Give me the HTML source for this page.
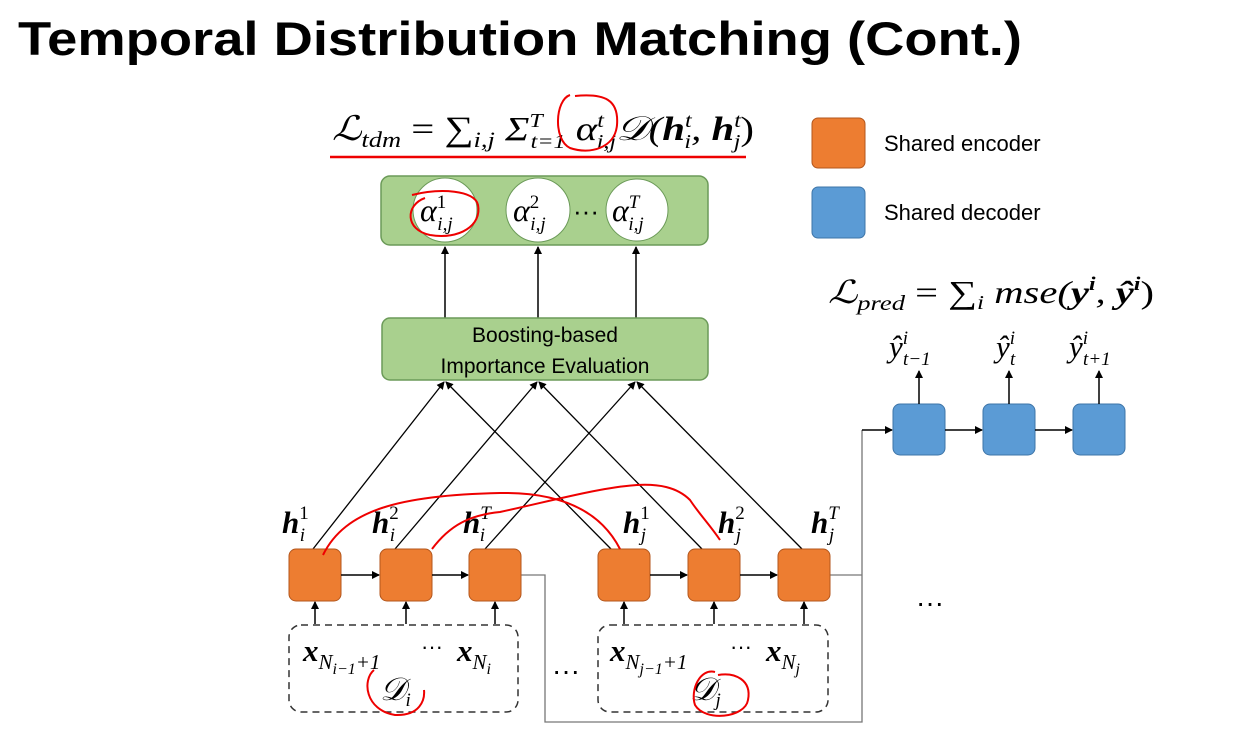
<!DOCTYPE html>
<html><head><meta charset="utf-8"><style>
body{margin:0;background:#fff;}
svg{display:block;}
.m{font-family:"Liberation Serif",serif;font-style:italic;}
.b{font-weight:bold;}
.s{font-family:"Liberation Sans",sans-serif;}
</style></head><body>
<svg width="1251" height="730" viewBox="0 0 1251 730" xmlns="http://www.w3.org/2000/svg">
<defs>
<marker id="a" markerWidth="8" markerHeight="8" refX="7" refY="4" orient="auto" markerUnits="userSpaceOnUse"><path d="M0,0 L8,4 L0,8 z" fill="#000"/></marker>
</defs>
<text x="18" y="55" class="s" font-size="47" font-weight="bold" textLength="1004" lengthAdjust="spacingAndGlyphs">Temporal Distribution Matching (Cont.)</text>

<!-- formula -->
<text x="332" y="140" class="m" font-size="34" textLength="422" lengthAdjust="spacingAndGlyphs">ℒ<tspan font-size="22" dy="7">tdm</tspan><tspan dy="-7" font-style="normal"> = ∑</tspan><tspan font-size="22" dy="7">i,j</tspan><tspan dy="-7"> Σ</tspan><tspan font-size="20" dy="-13">T</tspan><tspan font-size="20" dx="-10" dy="21">t=1</tspan><tspan dy="-8"> α</tspan><tspan font-size="20" dy="-13">t</tspan><tspan font-size="20" dx="-6" dy="21">i,j</tspan><tspan dy="-8">𝒟(</tspan><tspan class="b">h</tspan><tspan font-size="20" dy="-13">t</tspan><tspan font-size="20" dx="-6" dy="21">i</tspan><tspan dy="-8">, </tspan><tspan class="b">h</tspan><tspan font-size="20" dy="-13">t</tspan><tspan font-size="20" dx="-6" dy="21">j</tspan><tspan dy="-8" font-style="normal">)</tspan></text>
<line x1="330" y1="157" x2="746" y2="157" stroke="#e00" stroke-width="2.5"/>
<path d="M570,95 C555,100 553,140 570,148 C590,155 615,148 617,125 C619,100 605,93 575,96" fill="none" stroke="#e00" stroke-width="2"/>

<!-- top green -->
<rect x="381" y="176" width="327" height="69" rx="9" fill="#a9d08e" stroke="#6b9a58" stroke-width="1.5"/>
<circle cx="445" cy="210" r="32" fill="#fff" stroke="#6b9a58"/>
<circle cx="538" cy="210" r="32" fill="#fff" stroke="#6b9a58"/>
<circle cx="637" cy="210" r="31" fill="#fff" stroke="#6b9a58"/>
<text x="420" y="221" class="m" font-size="32">α<tspan font-size="19" dy="-13" font-style="normal">1</tspan><tspan font-size="19" dx="-9" dy="22">i,j</tspan></text>
<text x="513" y="221" class="m" font-size="32">α<tspan font-size="19" dy="-13" font-style="normal">2</tspan><tspan font-size="19" dx="-9" dy="22">i,j</tspan></text>
<text x="612" y="221" class="m" font-size="32">α<tspan font-size="19" dy="-13">T</tspan><tspan font-size="19" dx="-10" dy="22">i,j</tspan></text>
<text x="573" y="220" font-size="26" font-family="Liberation Sans">···</text>
<path d="M412,195 C440,188 475,190 478,205 C482,225 460,240 430,235 C405,230 405,205 425,198" fill="none" stroke="#e00" stroke-width="2"/>

<line x1="445" y1="318" x2="445" y2="247" stroke="#000" stroke-width="1.5" marker-end="url(#a)"/>
<line x1="538" y1="318" x2="538" y2="247" stroke="#000" stroke-width="1.5" marker-end="url(#a)"/>
<line x1="636" y1="318" x2="636" y2="247" stroke="#000" stroke-width="1.5" marker-end="url(#a)"/>

<rect x="382" y="318" width="326" height="62" rx="8" fill="#a9d08e" stroke="#6b9a58" stroke-width="1.5"/>
<text x="545" y="342" class="s" font-size="21" text-anchor="middle">Boosting-based</text>
<text x="545" y="373" class="s" font-size="21" text-anchor="middle">Importance Evaluation</text>

<!-- diagonal lines -->
<g stroke="#000" stroke-width="1.3" marker-end="url(#a)">
<line x1="313" y1="549" x2="444" y2="382"/>
<line x1="395" y1="549" x2="537" y2="382"/>
<line x1="485" y1="549" x2="635" y2="382"/>
<line x1="611" y1="549" x2="446" y2="382"/>
<line x1="702" y1="549" x2="539" y2="382"/>
<line x1="802" y1="549" x2="637" y2="382"/>
</g>

<!-- h labels -->
<g class="m b" font-size="31">
<text x="282" y="533">h<tspan font-size="19" font-weight="normal" dy="-14" font-style="normal">1</tspan><tspan font-size="19" font-weight="normal" dx="-9" dy="22">i</tspan></text>
<text x="372" y="533">h<tspan font-size="19" font-weight="normal" dy="-14" font-style="normal">2</tspan><tspan font-size="19" font-weight="normal" dx="-9" dy="22">i</tspan></text>
<text x="463" y="533">h<tspan font-size="19" font-weight="normal" dy="-14">T</tspan><tspan font-size="19" font-weight="normal" dx="-10" dy="22">i</tspan></text>
<text x="623" y="533">h<tspan font-size="19" font-weight="normal" dy="-14" font-style="normal">1</tspan><tspan font-size="19" font-weight="normal" dx="-9" dy="22">j</tspan></text>
<text x="718" y="533">h<tspan font-size="19" font-weight="normal" dy="-14" font-style="normal">2</tspan><tspan font-size="19" font-weight="normal" dx="-9" dy="22">j</tspan></text>
<text x="811" y="533">h<tspan font-size="19" font-weight="normal" dy="-14">T</tspan><tspan font-size="19" font-weight="normal" dx="-10" dy="22">j</tspan></text>
</g>

<!-- gray connector -->
<polyline points="521,575 545,575 545,722 862,722 862,430" fill="none" stroke="#777" stroke-width="1.3"/>
<line x1="830" y1="575" x2="862" y2="575" stroke="#777" stroke-width="1.3"/>
<line x1="862" y1="430" x2="892" y2="430" stroke="#000" stroke-width="1.5" marker-end="url(#a)"/>

<!-- orange boxes -->
<g fill="#ed7d31" stroke="#b3561c" stroke-width="1">
<rect x="289" y="549" width="52" height="52" rx="7"/>
<rect x="380" y="549" width="52" height="52" rx="7"/>
<rect x="469" y="549" width="52" height="52" rx="7"/>
<rect x="598" y="549" width="52" height="52" rx="7"/>
<rect x="688" y="549" width="52" height="52" rx="7"/>
<rect x="778" y="549" width="52" height="52" rx="7"/>
</g>
<g stroke="#000" stroke-width="1.5" marker-end="url(#a)">
<line x1="341" y1="575" x2="379" y2="575"/>
<line x1="432" y1="575" x2="468" y2="575"/>
<line x1="650" y1="575" x2="687" y2="575"/>
<line x1="740" y1="575" x2="777" y2="575"/>
<line x1="315" y1="624" x2="315" y2="602"/>
<line x1="406" y1="624" x2="406" y2="602"/>
<line x1="495" y1="624" x2="495" y2="602"/>
<line x1="624" y1="624" x2="624" y2="602"/>
<line x1="714" y1="624" x2="714" y2="602"/>
<line x1="804" y1="624" x2="804" y2="602"/>
</g>

<!-- dashed boxes -->
<rect x="289" y="625" width="229" height="87" rx="12" fill="none" stroke="#333" stroke-width="1.5" stroke-dasharray="7,5"/>
<rect x="598" y="625" width="230" height="87" rx="12" fill="none" stroke="#333" stroke-width="1.5" stroke-dasharray="7,5"/>
<g class="m b" font-size="31">
<text x="303" y="661">x<tspan font-size="21" font-weight="normal" dy="8">N<tspan font-size="16" dy="5">i−1</tspan><tspan dy="-5">+1</tspan></tspan></text>
<text x="457" y="661">x<tspan font-size="21" font-weight="normal" dy="8">N<tspan font-size="16" dy="5">i</tspan></tspan></text>
<text x="610" y="661">x<tspan font-size="21" font-weight="normal" dy="8">N<tspan font-size="16" dy="5">j−1</tspan><tspan dy="-5">+1</tspan></tspan></text>
<text x="766" y="661">x<tspan font-size="21" font-weight="normal" dy="8">N<tspan font-size="16" dy="5">j</tspan></tspan></text>
</g>
<text x="421" y="654" font-size="22" font-family="Liberation Sans">···</text>
<text x="730" y="654" font-size="22" font-family="Liberation Sans">···</text>
<text x="380" y="700" class="m" font-size="32">𝒟<tspan font-size="19" dy="6">i</tspan></text>
<text x="690" y="700" class="m" font-size="32">𝒟<tspan font-size="19" dy="6">j</tspan></text>
<text x="552" y="680" font-size="28" font-family="Liberation Sans">···</text>
<text x="916" y="612" font-size="28" font-family="Liberation Sans">···</text>

<!-- red annotations -->
<g fill="none" stroke="#e00" stroke-width="2">
<path d="M374,670 C362,680 365,710 395,715 C420,716 425,700 424,690"/>
<path d="M715,672 C700,668 690,690 695,705 C705,722 745,718 748,700 C752,680 735,672 718,675"/>
<path d="M323,555 C345,510 400,495 500,493 C560,492 600,510 620,549"/>
<path d="M432,549 C450,525 470,515 500,512 C600,490 660,470 690,500 C700,515 710,525 720,540"/>
</g>

<!-- decoder -->
<g fill="#5b9bd5" stroke="#3e75a8" stroke-width="1">
<rect x="893" y="404" width="52" height="51" rx="7"/>
<rect x="983" y="404" width="52" height="51" rx="7"/>
<rect x="1073" y="404" width="52" height="51" rx="7"/>
</g>
<g stroke="#000" stroke-width="1.5" marker-end="url(#a)">
<line x1="945" y1="430" x2="982" y2="430"/>
<line x1="1035" y1="430" x2="1072" y2="430"/>
<line x1="919" y1="404" x2="919" y2="371"/>
<line x1="1009" y1="404" x2="1009" y2="371"/>
<line x1="1099" y1="404" x2="1099" y2="371"/>
</g>
<g class="m" font-size="31">
<text x="889" y="357">ŷ<tspan font-size="19" dy="-13">i</tspan><tspan font-size="19" dx="-5" dy="21">t−1</tspan></text>
<text x="996" y="357">ŷ<tspan font-size="19" dy="-13">i</tspan><tspan font-size="19" dx="-5" dy="21">t</tspan></text>
<text x="1069" y="357">ŷ<tspan font-size="19" dy="-13">i</tspan><tspan font-size="19" dx="-5" dy="21">t+1</tspan></text>
</g>
<text x="828" y="303" class="m" font-size="32" textLength="326" lengthAdjust="spacingAndGlyphs">ℒ<tspan font-size="21" dy="7">pred</tspan><tspan dy="-7" font-style="normal"> = ∑</tspan><tspan font-size="20" dy="6">i</tspan><tspan dy="-6"> mse(</tspan><tspan class="b">y</tspan><tspan font-size="19" dy="-13" class="b">i</tspan><tspan dy="13">, </tspan><tspan class="b">ŷ</tspan><tspan font-size="19" dy="-13" class="b">i</tspan><tspan dy="13" font-style="normal">)</tspan></text>

<!-- legend -->
<rect x="812" y="118" width="53" height="50" rx="6" fill="#ed7d31" stroke="#b3561c"/>
<rect x="812" y="187" width="53" height="51" rx="6" fill="#5b9bd5" stroke="#3e75a8"/>
<text x="884" y="151" class="s" font-size="22">Shared encoder</text>
<text x="884" y="220" class="s" font-size="22">Shared decoder</text>
</svg>
</body></html>
